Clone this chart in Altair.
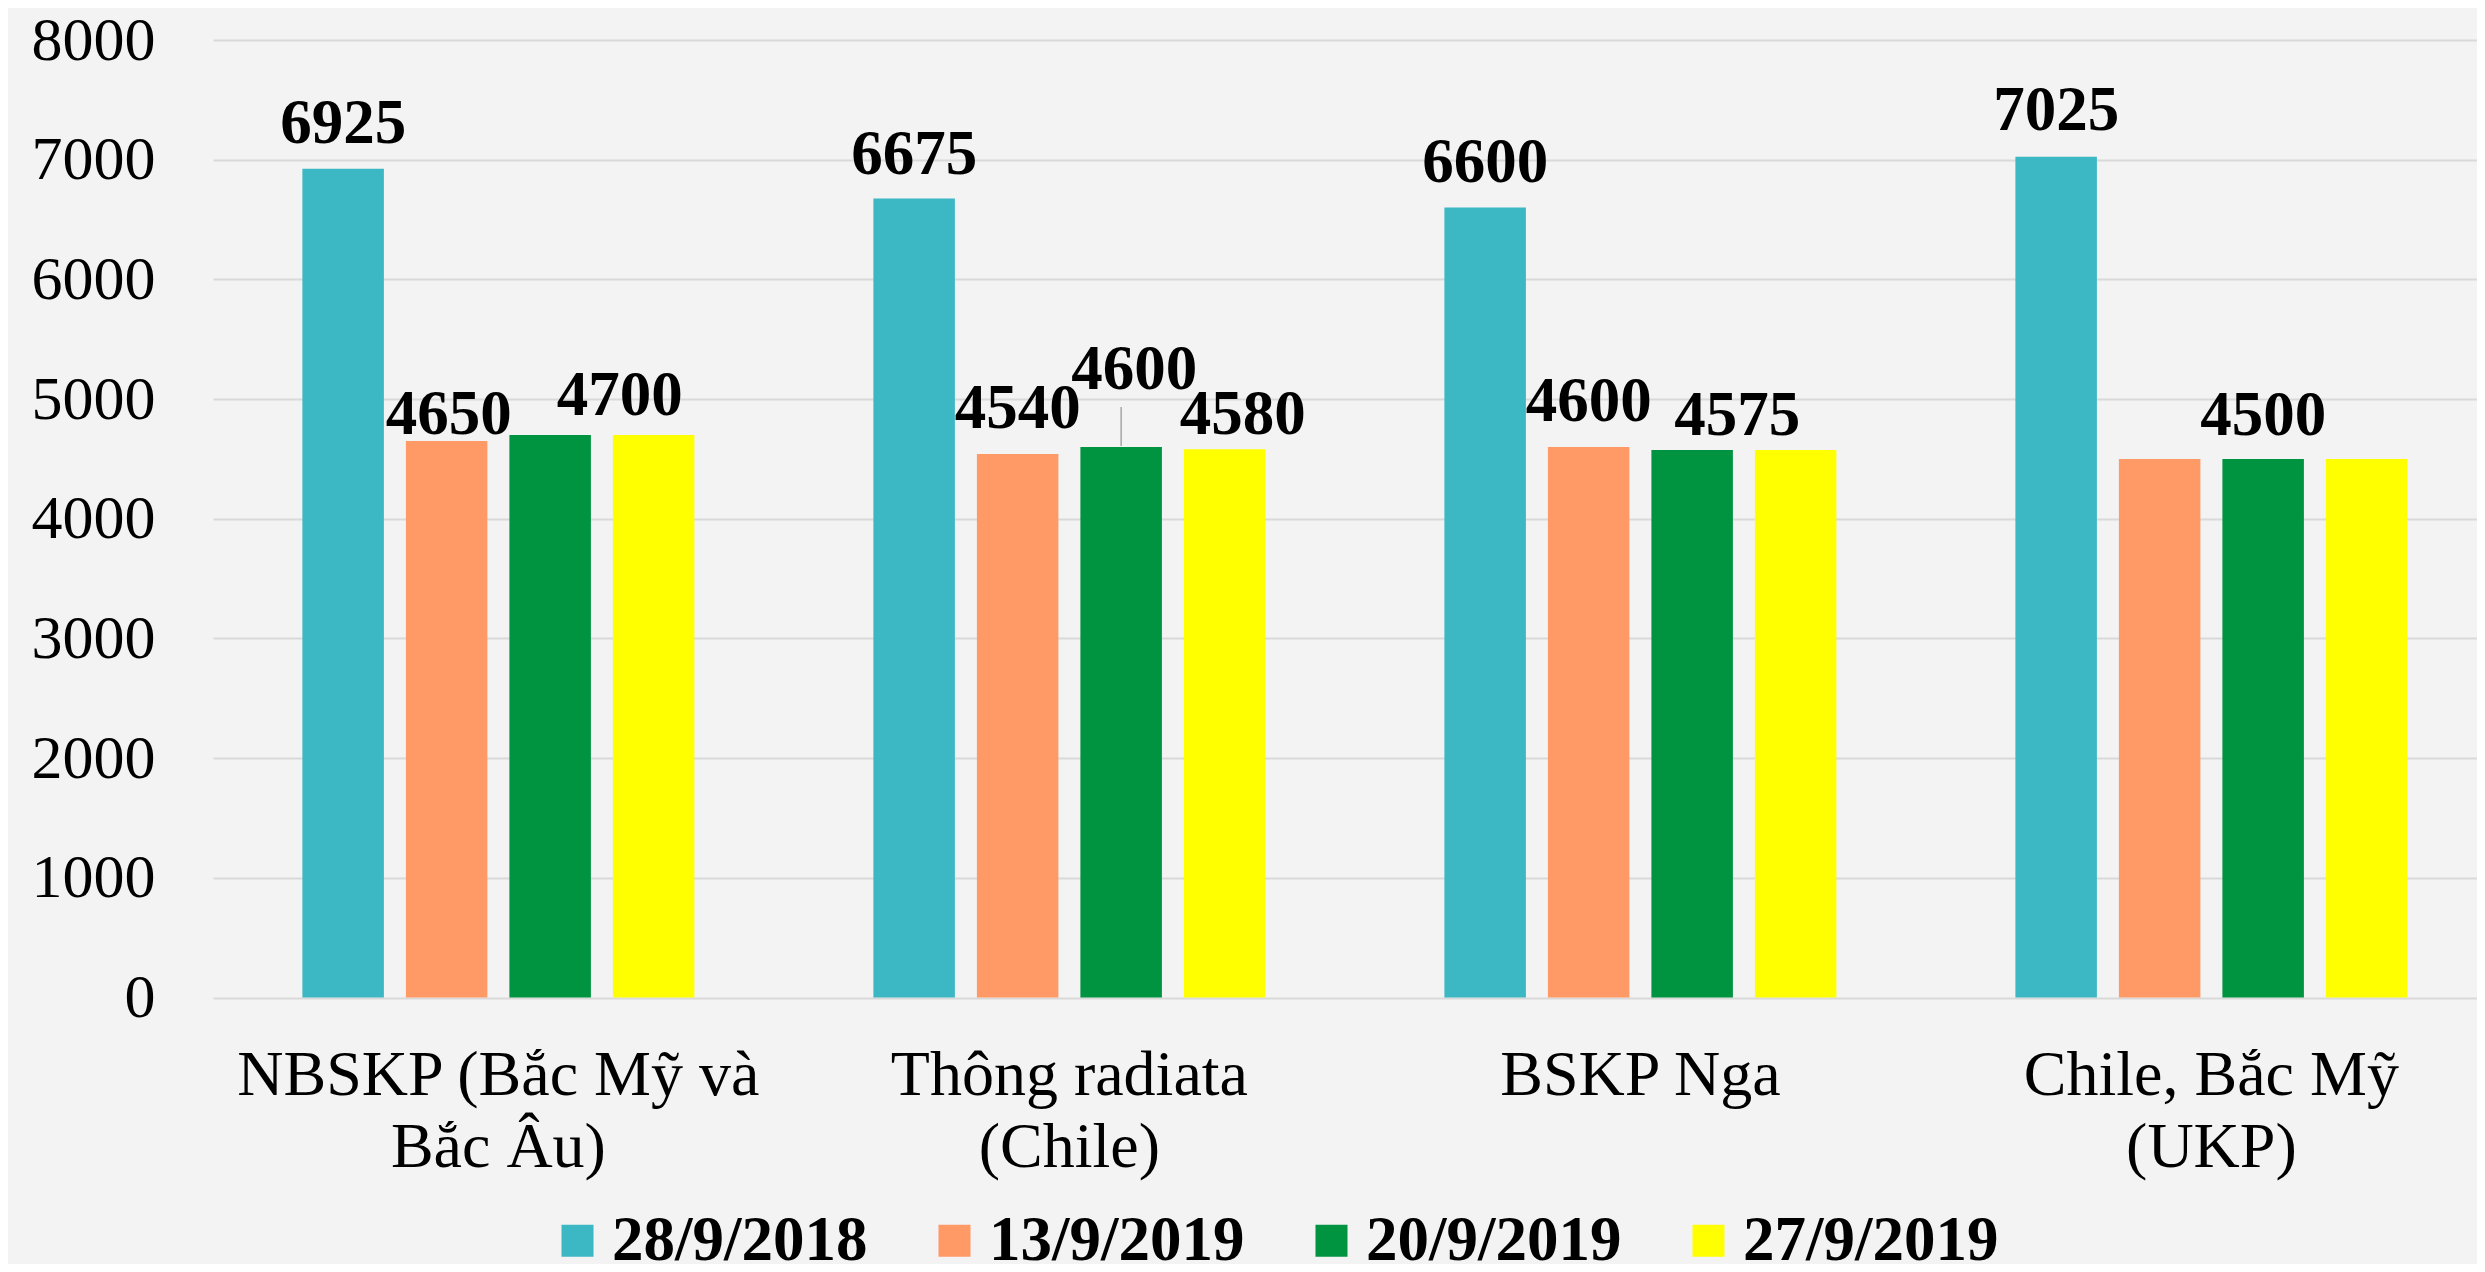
import json
import altair as alt
import pandas as pd

# ---------------- data ----------------
GROUPS = [
    "NBSKP (Bắc Mỹ và Bắc Âu)",
    "Thông radiata (Chile)",
    "BSKP Nga",
    "Chile, Bắc Mỹ (UKP)",
]
GROUP_LINES = [
    ["NBSKP (Bắc Mỹ và", "Bắc Âu)"],
    ["Thông radiata", "(Chile)"],
    ["BSKP Nga"],
    ["Chile, Bắc Mỹ", "(UKP)"],
]
SERIES = ["28/9/2018", "13/9/2019", "20/9/2019", "27/9/2019"]
VAL_2018_09_28 = [6925, 6675, 6600, 7025]
VAL_2019_09_13 = [4650, 4540, 4600, 4500]
VAL_2019_09_20 = [4700, 4600, 4575, 4500]
VAL_2019_09_27 = [4700, 4580, 4575, 4500]
Y_TICKS = [0, 1000, 2000, 3000, 4000, 5000, 6000, 7000, 8000]

# which bars carry a value label (group index, series)
LABELLED = [
    (0, "28/9/2018"), (0, "13/9/2019"), (0, "27/9/2019"),
    (1, "28/9/2018"), (1, "13/9/2019"), (1, "20/9/2019"), (1, "27/9/2019"),
    (2, "28/9/2018"), (2, "13/9/2019"), (2, "20/9/2019"),
    (3, "28/9/2018"), (3, "20/9/2019"),
]
# label nudges in pixels (dx, gap above bar top)
LABEL_NUDGE = [
    (0, 26), (2, 7), (-34, 20),
    (0, 25), (0, 26), (13, 58), (18, 15),
    (0, 26), (0, 26), (45, 15),
    (0, 27), (0, 24),
]
LEADER = [(1, "20/9/2019")]

COLORS = ["#3cb8c4", "#ff9966", "#009340", "#ffff00"]
FONT = "Liberation Serif"

# ---------------- tables ----------------
series_values = [VAL_2018_09_28, VAL_2019_09_13, VAL_2019_09_20, VAL_2019_09_27]
rows = []
for s, vals in zip(SERIES, series_values):
    for g, v in zip(GROUPS, vals):
        rows.append({"group": g, "series": s, "value": v})
df = pd.DataFrame(rows)


def lookup(gi, s):
    return series_values[SERIES.index(s)][gi]


label_map = json.dumps(dict(zip(GROUPS, GROUP_LINES)), ensure_ascii=False)

X_ENC = alt.X(
    "group:N",
    sort=GROUPS,
    scale=alt.Scale(domain=GROUPS, paddingInner=0.1, paddingOuter=0.032485,
                    align=0.7668, round=False),
    axis=alt.Axis(
        title=None, labelExpr=label_map + "[datum.label]", labelFont=FONT,
        labelFontSize=64, labelColor="black", labelPadding=46,
        labelLineHeight=72, ticks=False, domain=False, labelAngle=0,
        labelBaseline="top", labelLimit=0, grid=False,
    ),
)
XO_ENC = alt.XOffset(
    "series:N", sort=SERIES,
    scale=alt.Scale(domain=SERIES, paddingInner=0.2126, paddingOuter=0.5888, round=False),
)
Y_ENC = alt.Y(
    "value:Q",
    scale=alt.Scale(domain=[0, 8000], nice=False),
    axis=alt.Axis(
        title=None, values=Y_TICKS, labelFont=FONT, labelFontSize=62,
        labelColor="black", labelPadding=58, ticks=False, domain=False,
        gridColor="#d9d9d9", gridWidth=2, format="d",
    ),
)

bars = alt.Chart(df).mark_bar().encode(
    x=X_ENC,
    xOffset=XO_ENC,
    y=Y_ENC,
    color=alt.Color(
        "series:N", sort=SERIES,
        scale=alt.Scale(domain=SERIES, range=COLORS),
        legend=alt.Legend(
            title=None, orient="none", legendX=333, legendY=1169,
            direction="horizontal", columns=4, labelFont=FONT,
            labelFontSize=63, labelFontWeight="bold", labelColor="black",
            symbolType="square", symbolSize=1024, symbolStrokeWidth=0,
            symbolOpacity=1, labelOffset=3, columnPadding=55, padding=0,
            labelLimit=0,
        ),
    ),
)

layers = [bars]

for (gi, s) in LEADER:
    ldf = pd.DataFrame([{"group": GROUPS[gi], "series": s, "value": lookup(gi, s)}])
    layers.append(
        alt.Chart(ldf).mark_rule(color="#a6a6a6", strokeWidth=1.5,
                                 yOffset=-1, y2Offset=-40).encode(
            x=X_ENC, xOffset=XO_ENC, y=Y_ENC, y2=alt.Y2("value:Q"))
    )

for (gi, s), (dx, gap) in zip(LABELLED, LABEL_NUDGE):
    v = lookup(gi, s)
    tdf = pd.DataFrame([{"group": GROUPS[gi], "series": s, "value": v, "label": str(v)}])
    layers.append(
        alt.Chart(tdf).mark_text(
            font=FONT, fontSize=63, fontWeight="bold", color="black",
            baseline="alphabetic", align="center", dx=dx, dy=-gap,
        ).encode(x=X_ENC, xOffset=XO_ENC, y=Y_ENC, text="label:N")
    )

chart = (
    alt.layer(*layers)
    .properties(
        width=2264, height=957.5,
        autosize=alt.AutoSizeParams(type="none"),
        padding={"left": 205, "top": 32, "right": 0, "bottom": 266},
        background="#f3f3f4",
    )
    .configure_view(stroke=None)
)

chart.save("out.html", embed_options={"renderer": "svg", "actions": False})
